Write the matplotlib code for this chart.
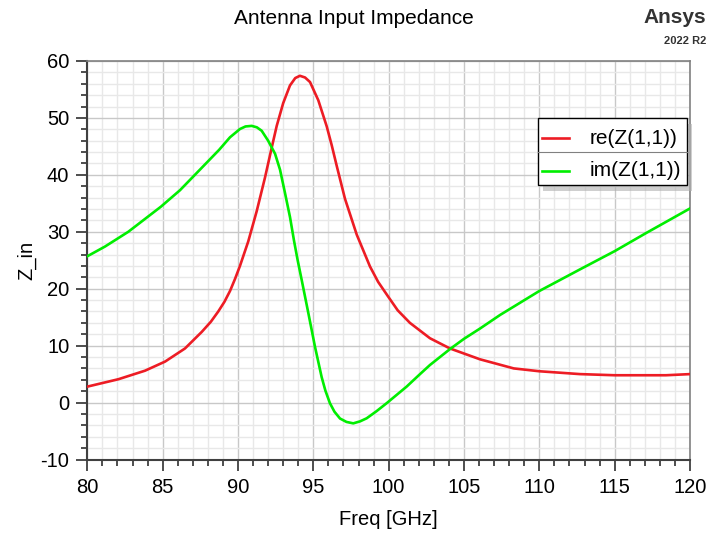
import matplotlib.pyplot as plt
from matplotlib.patches import Rectangle
from matplotlib.lines import Line2D
from matplotlib.ticker import MultipleLocator

plt.rcParams['font.family'] = ['Liberation Sans', 'DejaVu Sans']
plt.rcParams['axes.unicode_minus'] = False

# re(Z(1,1))
re_freq = [80.0, 82.06, 83.83, 85.16, 86.48, 87.59, 88.2, 88.69, 89.1, 89.47,
           89.8, 90.13, 90.68, 91.24, 91.79, 92.24, 92.57, 93.0, 93.45, 93.8,
           94.11, 94.45, 94.78, 95.33, 95.89, 96.22, 96.55, 97.1, 97.88, 98.76,
           99.3, 99.97, 100.6, 101.41, 102.74, 104.07, 106.06, 108.3, 110.0, 112.7,
           115.0, 118.4, 120.0]
re_z = [2.8, 4.1, 5.6, 7.2, 9.5, 12.4, 14.2, 16.0, 17.7, 19.6,
        21.7, 24.0, 28.3, 33.6, 39.5, 44.8, 48.6, 52.6, 55.7, 57.0,
        57.4, 57.1, 56.3, 53.1, 48.5, 45.2, 41.6, 35.8, 29.5, 23.9,
        21.2, 18.6, 16.2, 14.0, 11.3, 9.5, 7.6, 6.0, 5.5, 5.0,
        4.8, 4.8, 5.0]

# im(Z(1,1))
im_freq = [80.0, 81.17, 82.72, 84.88, 86.15, 87.47, 88.75, 89.47, 90.13, 90.5,
           90.91, 91.25, 91.57, 92.0, 92.46, 92.79, 93.12, 93.45, 93.72, 93.96,
           94.23, 94.67, 95.11, 95.55, 95.8, 96.1, 96.4, 96.77, 97.2, 97.65,
           98.1, 98.54, 99.2, 99.87, 101.19, 102.08, 102.74, 104.07, 105.0, 106.06,
           107.4, 110.0, 112.7, 115.0, 117.1, 120.0]
im_z = [25.7, 27.4, 30.0, 34.4, 37.3, 40.9, 44.4, 46.6, 48.05, 48.5,
        48.6, 48.35, 47.75, 46.0, 43.7, 40.9, 36.8, 32.6, 28.4, 25.0,
        21.5, 15.7, 9.8, 4.5, 2.1, -0.1, -1.6, -2.8, -3.4, -3.65,
        -3.3, -2.76, -1.5, -0.1, 2.8, 5.0, 6.6, 9.4, 11.2, 13.0,
        15.4, 19.6, 23.4, 26.6, 29.8, 34.1]

red = '#ed1c24'
green = '#00ee00'

fig = plt.figure(figsize=(7.07, 5.34), dpi=100)
ax = fig.add_axes([0.1235, 0.1395, 0.8525, 0.7463])

ax.plot(re_freq, re_z, color=red, lw=1.9, label='re(Z(1,1))', zorder=3)
ax.plot(im_freq, im_z, color=green, lw=1.9, label='im(Z(1,1))', zorder=3)

ax.set_xlim(80, 120)
ax.set_ylim(-10, 60)
ax.xaxis.set_major_locator(MultipleLocator(5))
ax.xaxis.set_minor_locator(MultipleLocator(1))
ax.yaxis.set_major_locator(MultipleLocator(10))
ax.yaxis.set_minor_locator(MultipleLocator(2))
ax.grid(which='major', color='#c8c8c8', lw=1.0)
ax.grid(which='minor', color='#e8e8e8', lw=1.0)
ax.set_axisbelow(True)

ax.tick_params(which='major', length=8, width=1.3, color='#404040', labelsize=14.5, pad=5)
ax.tick_params(which='minor', length=4, width=1.3, color='#404040')
for s in ['left', 'bottom']:
    ax.spines[s].set_color('#404040')
    ax.spines[s].set_linewidth(1.5)
for s in ['top', 'right']:
    ax.spines[s].set_color('#808080')
    ax.spines[s].set_linewidth(1.2)

ax.set_xlabel('Freq [GHz]', fontsize=14.5, labelpad=10)
ax.set_ylabel('Z_in', fontsize=14.5, labelpad=3)
fig.text(0.5, 0.966, 'Antenna Input Impedance', ha='center', va='center', fontsize=15)

fig.text(0.999, 0.967, 'Ansys', ha='right', va='center', fontsize=15, fontweight='bold', color='#333333')
fig.text(0.999, 0.923, '2022 R2', ha='right', va='center', fontsize=8, fontweight='bold', color='#333333')

# legend drawn as a boxed table with shadow
lx0, lx1, ly0, ly1 = 0.747, 0.995, 0.689, 0.857
ax.add_patch(Rectangle((lx0 + 0.009, ly0 - 0.014), lx1 - lx0, ly1 - ly0, transform=ax.transAxes,
                       facecolor='#b0b0b0', edgecolor='none', alpha=0.6, zorder=4, clip_on=False))
ax.add_patch(Rectangle((lx0, ly0), lx1 - lx0, ly1 - ly0, transform=ax.transAxes,
                       facecolor='white', edgecolor='black', lw=1.0, zorder=5, clip_on=False))
ax.add_line(Line2D([lx0, lx1], [0.772, 0.772], transform=ax.transAxes, color='#808080', lw=0.8, zorder=6))
for yy, col, lab in [(0.806, red, 're(Z(1,1))'), (0.724, green, 'im(Z(1,1))')]:
    ax.add_line(Line2D([0.754, 0.799], [yy, yy], transform=ax.transAxes, color=col, lw=1.9, zorder=6))
    ax.text(0.834, yy, lab, transform=ax.transAxes, fontsize=15, va='center', ha='left', zorder=6)

fig.savefig('out.png', dpi=100)
